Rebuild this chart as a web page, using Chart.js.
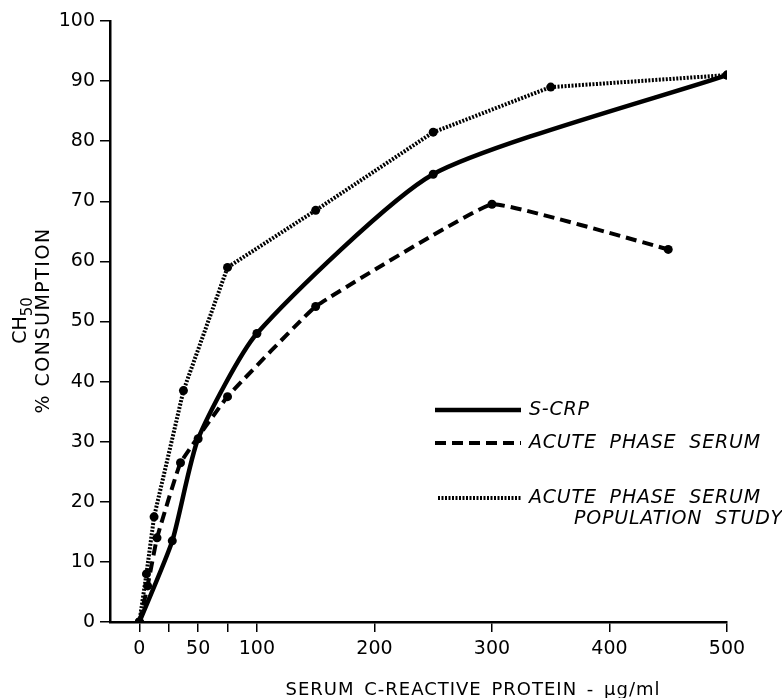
<!DOCTYPE html>
<html>
<head>
<meta charset="utf-8">
<script src="https://cdn.jsdelivr.net/npm/chart.js@4/dist/chart.umd.min.js"></script>
<style>
html, body { margin: 0; padding: 0; background: #fff; }
#wrap { width: 782px; height: 698px; }
</style>
</head>
<body>
<div id="wrap"><canvas id="c" width="782" height="698"></canvas></div>
<script>
// ---- data ----
const xTickValues = [0, 25, 50, 75, 100, 200, 300, 400, 500];
const xTickLabels = ['0', '', '50', '', '100', '200', '300', '400', '500'];
const yTickValues = [0, 10, 20, 30, 40, 50, 60, 70, 80, 90, 100];

const sCrpX = [0, 28, 50, 100, 250, 500];
const sCrpY = [0, 13.5, 30.5, 48, 74.5, 91];

const acuteX = [0, 7, 15, 35, 75, 150, 300, 450];
const acuteY = [0, 6, 14, 26.5, 37.5, 52.5, 69.5, 62];

const popX = [0, 6, 12.5, 37.5, 75, 150, 250, 350, 500];
const popY = [0, 8, 17.5, 38.5, 59, 68.5, 81.5, 89, 91];

const seriesNames = ['S-CRP', 'ACUTE PHASE SERUM', 'ACUTE PHASE SERUM POPULATION STUDY'];
const legendLines = [['S-CRP'], ['ACUTE PHASE SERUM'], ['ACUTE PHASE SERUM', 'POPULATION STUDY']];
const xTitle = 'SERUM C-REACTIVE PROTEIN - \u03bcg/ml';
const yTitleMain = 'CH';
const yTitleSub = '50';
const yTitleSecond = '% CONSUMPTION';

// ---- helpers ----
const toPoints = (xs, ys) => xs.map((x, i) => ({ x: x, y: ys[i] }));
const FONT = '"DejaVu Sans", sans-serif';

const annotatePlugin = {
  id: 'annotate',
  afterDraw(chart) {
    const ctx = chart.ctx;
    const ds = chart.data.datasets;
    // legend
    const rows = [{ y: 410, x0: 435 }, { y: 443, x0: 435 }, { y: 498, x0: 438 }];
    rows.forEach((r, i) => {
      ctx.save();
      ctx.strokeStyle = '#000';
      ctx.lineWidth = ds[i].borderWidth;
      ctx.setLineDash(ds[i].borderDash || []);
      ctx.beginPath();
      ctx.moveTo(r.x0, r.y);
      ctx.lineTo(521, r.y);
      ctx.stroke();
      ctx.restore();

      ctx.save();
      ctx.fillStyle = '#000';
      ctx.font = 'italic 19px ' + FONT;
      ctx.textBaseline = 'middle';
      ctx.textAlign = 'left';
      try { ctx.letterSpacing = '0.8px'; ctx.wordSpacing = '6px'; } catch (e) {}
      const lines = legendLines[i];
      ctx.fillText(lines[0], 529, r.y);
      if (lines.length > 1) ctx.fillText(lines[1], 574, r.y + 21);
      ctx.restore();
    });

    // x axis title
    ctx.save();
    ctx.fillStyle = '#000';
    ctx.font = '18px ' + FONT;
    ctx.textAlign = 'center';
    ctx.textBaseline = 'alphabetic';
    try { ctx.letterSpacing = '1px'; ctx.wordSpacing = '3px'; } catch (e) {}
    ctx.fillText(xTitle, 473, 695);
    ctx.restore();

    // y axis title (rotated, two lines)
    const cy = (chart.chartArea.top + chart.chartArea.bottom) / 2 - 1;
    ctx.save();
    ctx.fillStyle = '#000';
    ctx.textBaseline = 'middle';
    ctx.translate(23, cy);
    ctx.rotate(-Math.PI / 2);
    ctx.font = '19px ' + FONT;
    const wMain = ctx.measureText(yTitleMain).width;
    ctx.font = '15px ' + FONT;
    const wSub = ctx.measureText(yTitleSub).width;
    const start = -(wMain + wSub) / 2;
    ctx.textAlign = 'left';
    ctx.font = '19px ' + FONT;
    ctx.fillText(yTitleMain, start, -2);
    ctx.font = '15px ' + FONT;
    ctx.fillText(yTitleSub, start + wMain, 5);
    ctx.restore();

    ctx.save();
    ctx.fillStyle = '#000';
    ctx.textAlign = 'center';
    ctx.textBaseline = 'middle';
    ctx.translate(44, cy);
    ctx.rotate(-Math.PI / 2);
    ctx.font = '19px ' + FONT;
    try { ctx.letterSpacing = '1.5px'; } catch (e) {}
    ctx.fillText(yTitleSecond, 0, 0);
    ctx.restore();
  }
};

new Chart(document.getElementById('c'), {
  type: 'line',
  data: {
    datasets: [
      {
        label: seriesNames[0],
        data: toPoints(sCrpX, sCrpY),
        borderColor: '#000',
        backgroundColor: '#000',
        borderWidth: 4.5,
        borderDash: [],
        tension: 0.2,
        pointRadius: 4.5,
        pointBorderWidth: 0,
        pointBackgroundColor: '#000'
      },
      {
        label: seriesNames[1],
        data: toPoints(acuteX, acuteY),
        borderColor: '#000',
        backgroundColor: '#000',
        borderWidth: 4,
        borderDash: [11, 6],
        tension: 0.08,
        pointRadius: 4.5,
        pointBorderWidth: 0,
        pointBackgroundColor: '#000'
      },
      {
        label: seriesNames[2],
        data: toPoints(popX, popY),
        borderColor: '#000',
        backgroundColor: '#000',
        borderWidth: 4,
        borderDash: [2, 1.5],
        tension: 0,
        pointRadius: 4.5,
        pointBorderWidth: 0,
        pointBackgroundColor: '#000'
      }
    ]
  },
  options: {
    responsive: false,
    animation: false,
    layout: { padding: { top: 21, right: 55, left: 0, bottom: 0 } },
    plugins: {
      legend: { display: false },
      tooltip: { enabled: false },
      title: { display: false }
    },
    scales: {
      x: {
        type: 'linear',
        min: -25,
        max: 500,
        afterBuildTicks: (s) => { s.ticks = xTickValues.map(v => ({ value: v })); },
        afterFit: (s) => { s.height = 76; },
        ticks: {
          autoSkip: false,
          maxRotation: 0,
          padding: 6,
          color: '#000',
          font: { family: FONT, size: 19 },
          callback: (v) => { const i = xTickValues.indexOf(v); return i >= 0 ? xTickLabels[i] : ''; }
        },
        grid: { drawOnChartArea: false, drawTicks: true, tickLength: 10, color: '#000', lineWidth: 1.5 },
        border: { display: true, color: '#000', width: 2.5 },
        title: { display: false }
      },
      y: {
        min: 0,
        max: 100,
        afterBuildTicks: (s) => { s.ticks = yTickValues.map(v => ({ value: v })); },
        afterFit: (s) => { s.width = 110; },
        ticks: {
          padding: 5,
          color: '#000',
          font: { family: FONT, size: 19 }
        },
        grid: { drawOnChartArea: false, drawTicks: true, tickLength: 10, color: '#000', lineWidth: 1.5 },
        border: { display: true, color: '#000', width: 2.5 },
        title: { display: false }
      }
    }
  },
  plugins: [annotatePlugin]
});
</script>
</body>
</html>
